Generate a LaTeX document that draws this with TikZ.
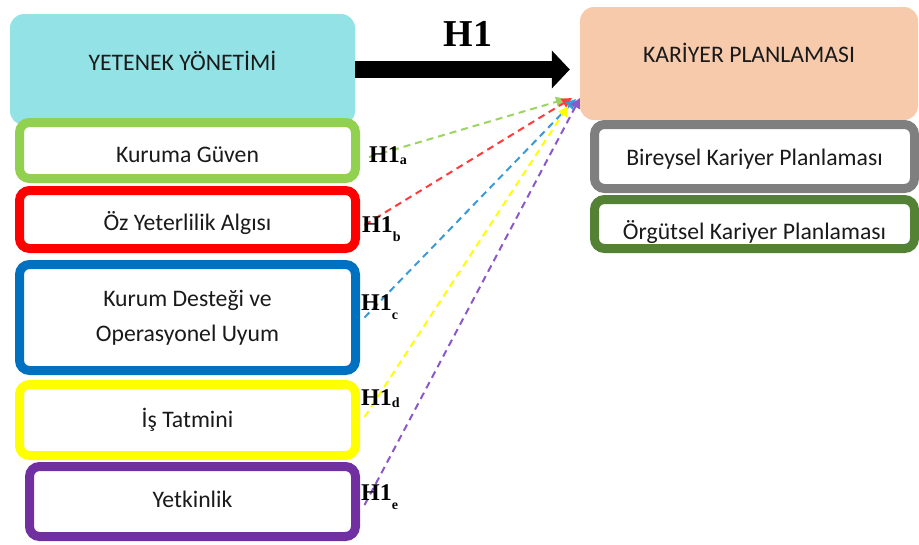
\documentclass[tikz,border=0pt]{standalone}
\usepackage{fontspec}
\setmainfont{Carlito}
\newfontfamily\hfont{Liberation Serif}
\usetikzlibrary{arrows.meta}
\definecolor{cyanbox}{HTML}{93E3E6}
\definecolor{peach}{HTML}{F7CAAC}
\definecolor{bgreen}{HTML}{92D050}
\definecolor{bred}{HTML}{FF0000}
\definecolor{bblue}{HTML}{0070C0}
\definecolor{byellow}{HTML}{FFFF00}
\definecolor{bpurple}{HTML}{7030A0}
\definecolor{bgray}{HTML}{7F7F7F}
\definecolor{bdgreen}{HTML}{548235}
\definecolor{lgreen}{HTML}{9BD463}
\definecolor{lred}{HTML}{FF3B3B}
\definecolor{lblue}{HTML}{3A9AD9}
\definecolor{lyellow}{HTML}{FFFF00}
\definecolor{lpurple}{HTML}{8B58C8}
\definecolor{txt}{HTML}{1A1A1A}
\begin{document}
\begin{tikzpicture}[x=1pt,y=-1pt,
  boxtxt/.style={font=\fontsize{23.7}{35}\selectfont, text=txt, align=center, inner sep=0pt},
  topbox/.style={boxtxt, rounded corners=14pt},
  subbox/.style={boxtxt, draw, line width=9pt, rounded corners=10pt, fill=white},
  hlab/.style={font=\hfont\bfseries\fontsize{24}{24}\selectfont, inner sep=0pt, anchor=base west},
  dl/.style={line width=2pt, dash pattern=on 7pt off 5pt, -{Triangle[length=10pt,width=10pt]}}
]
\useasboundingbox (0,0) rectangle (919,544);

% left side
\node[topbox, fill=cyanbox, minimum width=345pt, minimum height=111pt, text height=15pt, text depth=13pt] (yy) at (182.5,69.5) {YETENEK YÖNETİMİ};
\node[subbox, draw=bgreen, minimum width=336pt, minimum height=56pt, text height=24pt, text depth=0pt] (kg) at (187.5,150.5) {Kuruma Güven};
\node[subbox, draw=bred, minimum width=336pt, minimum height=58pt, text height=22pt, text depth=0pt] (kr) at (187.5,219.5) {Öz Yeterlilik Algısı};
\node[subbox, draw=bblue, minimum width=336pt, minimum height=106pt] (kb) at (187.5,317.5) {Kurum Desteği ve\\Operasyonel Uyum};
\node[subbox, draw=byellow, minimum width=336pt, minimum height=71pt, text height=15pt, text depth=0pt] (ky) at (187.5,420) {İş Tatmini};
\node[subbox, draw=bpurple, minimum width=326pt, minimum height=70pt, text height=15pt, text depth=3pt] (kpu) at (192.5,501.5) {Yetkinlik};

% right side
\node[topbox, fill=peach, minimum width=338pt, minimum height=113pt, text height=15pt, text depth=17pt] (kp) at (749,63.5) {KARİYER PLANLAMASI};
\node[subbox, draw=bgray, minimum width=320pt, minimum height=64pt, text height=18pt, text depth=0pt] (bk) at (754.5,156.5) {Bireysel Kariyer Planlaması};
\node[subbox, draw=bdgreen, minimum width=320pt, minimum height=49pt, text height=31pt, text depth=0pt] (ok) at (754.5,224) {Örgütsel Kariyer Planlaması};

% main arrow
\draw[line width=17pt, -{Triangle[width=37pt,length=18pt]}, shorten >=10pt] (yy.east) -- (yy.east -| kp.west);
\node[font=\hfont\bfseries\fontsize{38}{40}\selectfont, inner sep=0pt] (h1) at (468,34) {H1};

% dashed hypotheses
\coordinate (ta) at (566,99);
\coordinate (tb) at (572,98);
\coordinate (tc) at (576,99);
\coordinate (td) at (568,106);
\coordinate (te) at (580,98);
\draw[dl, lgreen] ([xshift=9pt,yshift=-6.5pt]kg.east) -- (ta);
\draw[dl, lred] ([xshift=4.5pt,yshift=-5.5pt]kr.east) -- (tb);
\draw[dl, lblue] ([xshift=4.5pt]kb.east) -- (tc);
\draw[dl, lyellow] ([xshift=4.5pt,yshift=3pt]ky.east) -- (td);
\draw[dl, lpurple] ([xshift=4.5pt,yshift=-3.5pt]kpu.east) -- (te);

\node[hlab] (la) at (369,162) {H1\raisebox{-2pt}{\fontsize{14}{14}\selectfont a}};
\node[hlab] (lb) at (362,232) {H1\raisebox{-9pt}{\fontsize{14}{14}\selectfont b}};
\node[hlab] (lc) at (361,310) {H1\raisebox{-9pt}{\fontsize{14}{14}\selectfont c}};
\node[hlab] (ld) at (361,405) {H1\raisebox{-2pt}{\fontsize{14}{14}\selectfont d}};
\node[hlab] (le) at (361,500) {H1\raisebox{-9pt}{\fontsize{14}{14}\selectfont e}};
\end{tikzpicture}
\end{document}
